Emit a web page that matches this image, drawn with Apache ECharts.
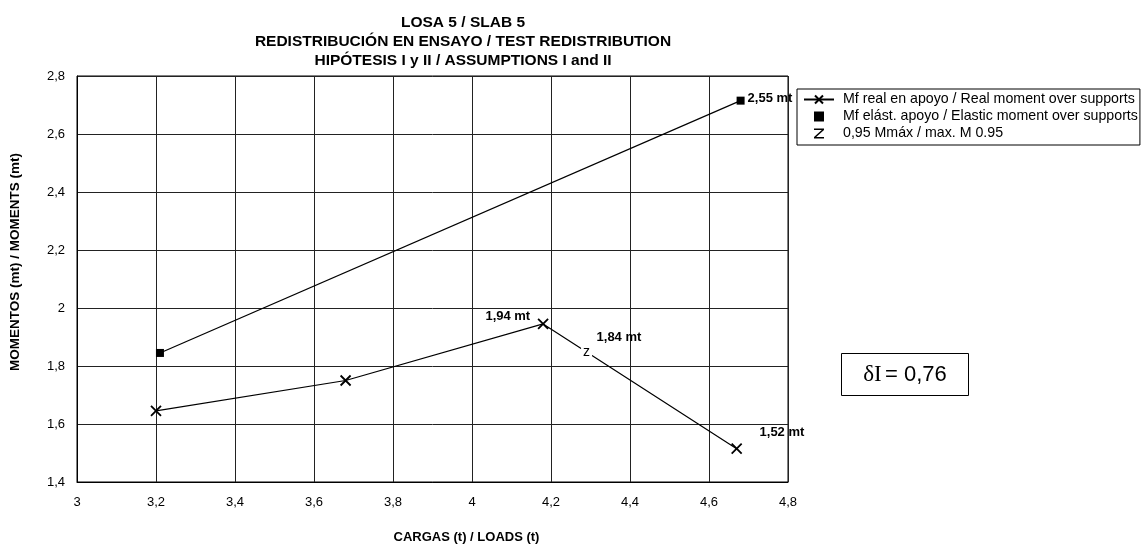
<!DOCTYPE html>
<html><head><meta charset="utf-8">
<script src="https://cdn.jsdelivr.net/npm/echarts@6/dist/echarts.min.js"></script>
<style>html,body{margin:0;padding:0;background:#fff}#c{width:1144px;height:551px}</style>
</head><body><div id="c"></div>
<script>
// ---- data ----
const titleLines = ['LOSA 5 / SLAB 5', 'REDISTRIBUCIÓN EN ENSAYO / TEST REDISTRIBUTION', 'HIPÓTESIS I y II / ASSUMPTIONS I and II'];
const xAxisTitle = 'CARGAS (t) / LOADS (t)';
const yAxisTitle = 'MOMENTOS (mt) / MOMENTS (mt)';
const xMin = 3, xMax = 4.8, xStep = 0.2;
const yMin = 1.4, yMax = 2.8, yStep = 0.2;
const seriesNames = ['Mf real en apoyo / Real moment over supports', 'Mf elást. apoyo / Elastic moment over supports', '0,95 Mmáx / max. M 0.95'];
const realLoads = [3.2, 3.68, 4.18, 4.67];
const realMoments = [1.645, 1.75, 1.945, 1.515];
const realLabels = ['', '', '1,94 mt', '1,52 mt'];
const elasticLoads = [3.21, 4.68];
const elasticMoments = [1.845, 2.715];
const elasticLabels = ['', '2,55 mt'];
const maxLoads = [4.29];
const maxMoments = [1.845];
const maxLabels = ['1,84 mt'];
const maxMarker = 'z';
const deltaSymbol = 'δI';
const deltaValue = '= 0,76';

// ---- chart ----
const SANS = '"Liberation Sans", Arial, sans-serif';
const fmt = v => (+v.toFixed(1)).toString().replace('.', ',');
const xSym = 'path://M0,0L10,10M10,0L0,10';
const zSym = 'path://M0,0L10,0L10,1.6L2.2,8.4L10,8.4L10,10L0,10L0,8.4L7.8,1.6L0,1.6Z';
const sqSym = 'path://M0,0L10,0L10,10L0,10Z';

const labelStyle = {fontFamily: SANS, fontWeight: 'bold', fontSize: 13, color: '#000'};
const realLabelPos = [null, null, {position: 'left', offset: [-2, -8]}, {position: 'right', offset: [12, -16]}];
const elasticLabelPos = [null, {position: 'right', offset: [-2, -2]}];
const maxLabelPos = [{position: 'right', offset: [5, -16]}];

function build(xs, ys, labels, pos) {
  return xs.map((x, i) => {
    const d = {value: [x, ys[i]]};
    if (labels[i]) d.label = Object.assign({show: true, formatter: labels[i]}, labelStyle, pos[i]);
    return d;
  });
}

const chart = echarts.init(document.getElementById('c'), null, {renderer: 'canvas'});
chart.setOption({
  backgroundColor: '#fff',
  animation: false,
  title: {
    text: titleLines.join('\n'),
    left: 458, top: 8, textAlign: 'center',
    textStyle: {fontFamily: SANS, fontWeight: 'bold', fontSize: 15.5, lineHeight: 19, color: '#000'}
  },
  grid: {left: 77, right: 356, top: 76, bottom: 69, show: true, borderColor: '#000', borderWidth: 1},
  xAxis: {
    type: 'value', min: xMin, max: xMax, interval: xStep,
    name: xAxisTitle, nameLocation: 'middle', nameGap: 49,
    nameTextStyle: {fontFamily: SANS, fontWeight: 'bold', fontSize: 13, color: '#000', padding: [0, 0, 0, 68]},
    axisLine: {show: true, lineStyle: {color: '#000'}},
    axisTick: {show: false},
    axisLabel: {formatter: fmt, fontFamily: SANS, fontSize: 13, color: '#000', margin: 14},
    splitLine: {show: true, lineStyle: {color: '#222', width: 1}}
  },
  yAxis: {
    type: 'value', min: yMin, max: yMax, interval: yStep,
    name: yAxisTitle, nameLocation: 'middle', nameGap: 55,
    nameTextStyle: {fontFamily: SANS, fontWeight: 'bold', fontSize: 13.5, color: '#000', padding: [0, 0, 0, 34]},
    axisLine: {show: true, lineStyle: {color: '#000'}},
    axisTick: {show: false},
    axisLabel: {formatter: fmt, fontFamily: SANS, fontSize: 13, color: '#000', margin: 12},
    splitLine: {show: true, lineStyle: {color: '#222', width: 1}}
  },
  legend: {
    orient: 'vertical', left: 797, top: 89,
    padding: [2, 2, 3, 6], itemGap: 0, itemWidth: 30, itemHeight: 10,
    borderColor: '#000', borderWidth: 1, backgroundColor: '#fff',
    textStyle: {fontFamily: SANS, fontSize: 14.2, color: '#000', padding: [0, 0, 0, 4], lineHeight: 17},
    data: [
      {name: seriesNames[0]},
      {name: seriesNames[1], icon: sqSym},
      {name: seriesNames[2], icon: zSym, itemStyle: {color: '#000', borderWidth: 0}}
    ]
  },
  series: [
    {
      name: seriesNames[0], type: 'line',
      data: build(realLoads, realMoments, realLabels, realLabelPos),
      symbol: xSym, symbolSize: 10,
      lineStyle: {color: '#000', width: 1.2},
      itemStyle: {color: '#000', borderColor: '#000', borderWidth: 1.8},
      z: 3
    },
    {
      name: seriesNames[1], type: 'line',
      data: build(elasticLoads, elasticMoments, elasticLabels, elasticLabelPos),
      symbol: 'rect', symbolSize: 8,
      lineStyle: {color: '#000', width: 1.2},
      itemStyle: {color: '#000'},
      z: 3
    },
    {
      name: seriesNames[2], type: 'scatter',
      data: maxLoads.map((x, i) => [x, maxMoments[i]]),
      symbol: 'rect', symbolSize: [11, 13],
      itemStyle: {color: '#fff', opacity: 1},
      label: {show: true, position: 'inside', formatter: maxMarker, fontFamily: SANS, fontSize: 14, color: '#000', offset: [0, -1]},
      emphasis: {disabled: true},
      z: 4
    },
    {
      name: 'max-label', type: 'scatter',
      data: build(maxLoads, maxMoments, maxLabels, maxLabelPos),
      symbolSize: 0,
      itemStyle: {opacity: 1},
      emphasis: {disabled: true},
      z: 5
    }
  ],
  graphic: [{
    type: 'group', left: 841, top: 353,
    children: [
      {type: 'rect', shape: {x: 0, y: 0, width: 127, height: 42}, style: {fill: '#fff', stroke: '#000', lineWidth: 1}},
      {type: 'text', x: 63.5, y: 21, style: {
        text: '{a|' + deltaSymbol + '} {b|' + deltaValue + '}',
        align: 'center', verticalAlign: 'middle',
        rich: {
          a: {fontFamily: '"Liberation Serif", "Times New Roman", serif', fontSize: 23, fill: '#000'},
          b: {fontFamily: SANS, fontSize: 22, fill: '#000'}
        }
      }}
    ]
  }]
});
</script>
</body></html>
